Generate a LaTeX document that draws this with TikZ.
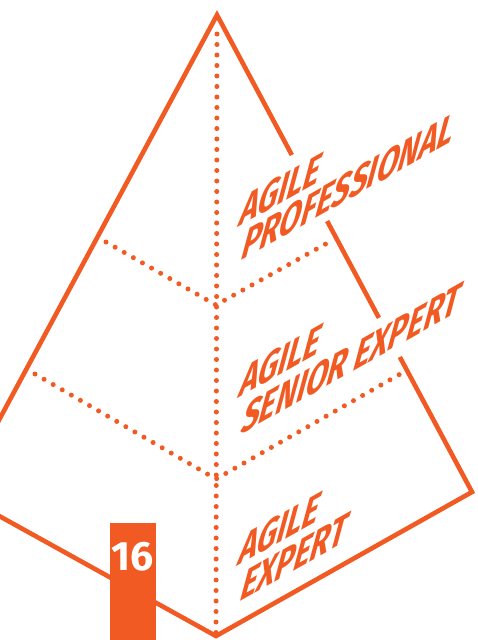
\documentclass[tikz,border=0pt]{standalone}
\usepackage{fontspec}
\newfontfamily\tierfont{Fira Sans}
\newfontfamily\badgefont{Fira Sans}
\usetikzlibrary{calc}
\definecolor{pyr}{RGB}{241,91,35}
% one line of a tier name, laid on the right face
\newcommand{\tierline}[3]{\begin{scope}[shift={#1},cm={0.650,0.368,0.260,0.966,(0,0)}]
  \node[tier] (#2) at (0,0) {#3};
\end{scope}}

\begin{document}
\begin{tikzpicture}[x=1pt,y=-1pt,
    edge/.style={draw=pyr,line width=4.6pt},
    dots/.style={draw=pyr,line width=5pt,line cap=round,dash pattern=on 0pt off 10.5pt},
    tier/.style={text=pyr,font=\tierfont\bfseries\fontsize{48}{48}\selectfont,inner sep=0pt,anchor=base west,transform shape}]
  \fill[white] (0,0) rectangle (478,640);
  \useasboundingbox (0,0) rectangle (478,640);
  \clip (0,0) rectangle (478,640);

  \coordinate (apex) at (217,15);
  \coordinate (rc) at (472,492);
  \coordinate (bot) at (216,636);
  \coordinate (lt) at (-8,433);
  \coordinate (lb) at (-8,512);
  \coordinate (g1a) at ($(apex)!0.2935!(rc)$);
  \coordinate (g1b) at ($(apex)!0.432!(rc)$);
  \coordinate (g2a) at ($(apex)!0.635!(rc)$);
  \coordinate (g2b) at ($(apex)!0.717!(rc)$);

  % outline, broken where the names cross it
  \draw[edge,line join=miter] (lt) -- (apex) -- (g1a);
  \draw[edge] (g1b) -- (g2a);
  \draw[edge,line join=miter] (g2b) -- (rc) -- (bot) -- (lb);

  % tiers
  \coordinate (top) at (217,34);
  \coordinate (c1) at (216,305);
  \coordinate (c2) at (216,479);
  \coordinate (l1) at (106,242);
  \coordinate (r1) at (331,241);
  \coordinate (l2) at (35,374);
  \coordinate (r2) at (402,373);
  \draw[dots] (top) -- (bot);
  \draw[dots] (l1) -- (c1) -- (r1);
  \draw[dots] (l2) -- (c2) -- (r2);

  \tierline{(237,228)}{ag1}{AGILE}
  \tierline{(239,262)}{pro}{PROFESSIONAL}
  \tierline{(237,399)}{ag2}{AGILE}
  \tierline{(239,436)}{sen}{SENIOR EXPERT}
  \tierline{(236,567)}{ag3}{AGILE}
  \tierline{(238,603)}{exp}{EXPERT}

  % page tab
  \node[fill=pyr,minimum width=46pt,minimum height=117pt,inner sep=0pt] (tab) at (133,581.5) {};
  \node[text=white,font=\badgefont\bfseries\fontsize{41}{41}\selectfont,inner sep=0pt] (num) at (133,557) {16};
\end{tikzpicture}
\end{document}
